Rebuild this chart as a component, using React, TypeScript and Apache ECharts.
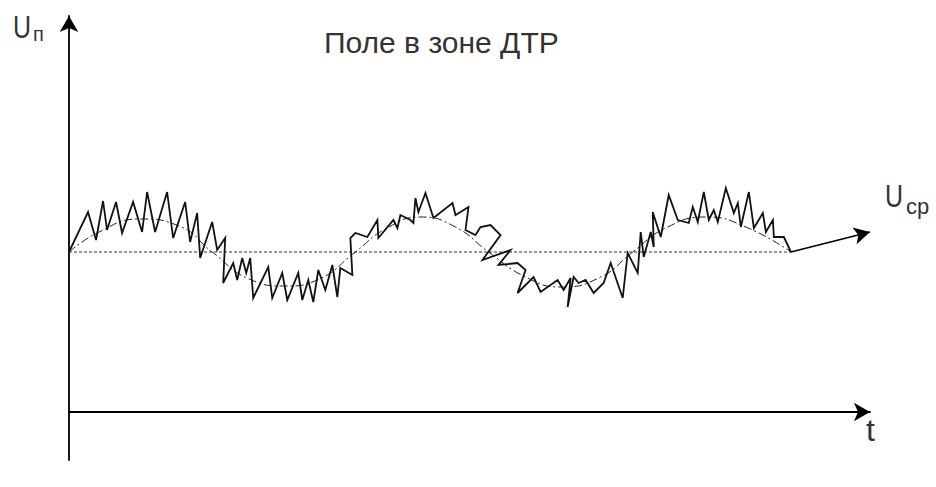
import React, { useEffect, useRef } from "react";
import * as echarts from "echarts";

// Time axis and field axis ranges (arbitrary units)
const T_MAX = 80;
const U_MIN = -4.8;
const U_MAX = 39.6;
const U_MEAN = 16;

// Noisy field signal in the DTR zone
const noisyT = [
  0, 1.9, 2.7, 3.4, 3.8, 4.7, 5.3, 6.4, 7.3, 7.8, 8.6, 9.8, 10.4, 11.6, 12.1, 12.8, 13.1, 14.3, 14.8, 15.6,
  15.4, 16.4, 16.8, 17.3, 17.7, 18.1, 18.4, 19.9, 20.3, 21.3, 21.8, 22.9, 23.3, 23.9, 24.4, 24.9, 25.6, 26.3,
  26.8, 27.1, 28.3, 28.1, 28.6, 29.8, 30.8, 30.9, 32.4, 32.8, 33.1, 34.1, 34.4, 34.6, 34.9, 35.6, 36.4, 38.3,
  38.6, 39.1, 39.9, 39.6, 40.6, 41.1, 42.1, 43.1, 41.3, 44.1, 42.9, 44.8, 45.6, 44.8, 46.4, 47.1, 48.8, 49.4,
  50.1, 49.8, 50.4, 50.9, 51.6, 52.4, 53.4, 54.1, 55.3, 55.8, 56.8, 57.1, 57.4, 58.1, 58.4, 58.3, 59.1, 59.9,
  60.8, 61.9, 62.3, 62.8, 63.4, 63.9, 64.4, 64.8, 65.6, 66.4, 66.8, 67.1, 67.9, 68.4, 69.3, 69.6, 70.3, 70.4,
  71.4, 72.1,
];
const noisyU = [
  16, 20.0, 17.2, 21.1, 18.2, 21.0, 17.9, 21.0, 18.0, 22.0, 18.0, 22.0, 17.4, 21.0, 17.0, 19.9, 15.4, 19.0, 16.2, 17.4,
  12.9, 14.9, 13.2, 15.4, 13.9, 15.4, 11.4, 14.5, 11.4, 13.9, 11.2, 13.9, 11.2, 13.2, 11.0, 14.2, 12.2, 14.7,
  11.5, 14.4, 13.7, 17.4, 17.9, 17.5, 19.2, 17.4, 19.2, 18.4, 19.7, 19.2, 18.9, 21.4, 20.0, 21.9, 19.4, 20.9,
  19.7, 20.0, 20.5, 18.2, 17.7, 18.5, 18.7, 17.7, 15.2, 16.2, 14.7, 14.9, 14.2, 11.9, 13.5, 12.0, 13.2, 12.2,
  13.4, 10.5, 13.5, 12.9, 13.2, 11.9, 12.9, 14.9, 11.4, 15.9, 13.9, 18.0, 15.5, 18.0, 16.5, 20.0, 17.5, 21.7,
  19.2, 18.9, 20.5, 19.0, 22.0, 19.2, 20.2, 19.0, 22.4, 19.9, 20.9, 18.5, 22.0, 18.4, 19.9, 18.0, 19.2, 17.5,
  17.5, 16,
];

// Smoothed (averaged) field, dash-dot curve
const smoothT = [0, 3, 7, 11, 14.3, 18, 21.6, 25, 28.6, 31.6, 35.1, 38.6, 41.9, 45.6, 49.1, 53.1, 56.3, 59.6, 63.6, 67.6, 72.1];
const smoothU = [16, 18, 19.3, 18.6, 16, 13.3, 12.6, 13.3, 16, 18.3, 19.5, 18.5, 16, 13.5, 12.5, 13.5, 16, 18.4, 19.5, 18.5, 16];

// Mean-level line and the U_cp arrow
const baselineT = [0, 72.1];
const ucpArrowT = [72.1, 80];
const ucpArrowU = [16, 18];

const TITLE = "Поле в зоне ДТР";
const Y_LABEL = "U";
const Y_LABEL_SUB = "п";
const X_LABEL = "t";
const UCP_LABEL = "U";
const UCP_LABEL_SUB = "cp";

const FONT = '"Liberation Sans", Arial, Helvetica, sans-serif';

export default function App() {
  const ref = useRef<HTMLDivElement>(null);
  useEffect(() => {
    if (!ref.current) return;
    const chart = echarts.init(ref.current, undefined, { renderer: "svg" });
    const noisy = noisyT.map((t, i) => [t, noisyU[i]]);
    const smooth = smoothT.map((t, i) => [t, smoothU[i]]);
    const base = baselineT.map((t) => [t, U_MEAN]);
    chart.setOption({
      animation: false,
      backgroundColor: "#ffffff",
      grid: { left: 69, right: 66, top: 16, bottom: 27, containLabel: false },
      xAxis: {
        type: "value",
        min: 0,
        max: T_MAX,
        axisLine: {
          show: true,
          onZero: true,
          symbol: ["none", "arrow"],
          symbolSize: [14, 16],
          lineStyle: { color: "#000", width: 1.8 },
        },
        axisTick: { show: false },
        axisLabel: { show: false },
        splitLine: { show: false },
      },
      yAxis: {
        type: "value",
        min: U_MIN,
        max: U_MAX,
        axisLine: {
          show: true,
          onZero: false,
          symbol: ["none", "arrow"],
          symbolSize: [14, 16],
          lineStyle: { color: "#000", width: 1.8 },
        },
        axisTick: { show: false },
        axisLabel: { show: false },
        splitLine: { show: false },
      },
      series: [
        {
          type: "line",
          data: base,
          symbol: "none",
          lineStyle: { color: "#333", width: 1, type: [3, 2] },
          z: 1,
        },
        {
          type: "line",
          data: smooth,
          smooth: 0.5,
          symbol: "none",
          lineStyle: { color: "#222", width: 1, type: [8, 3, 2, 3] },
          z: 2,
        },
        {
          type: "line",
          data: noisy,
          symbol: "none",
          lineStyle: { color: "#111", width: 1.8, join: "miter" },
          z: 3,
          markLine: {
            silent: true,
            symbol: ["none", "arrow"],
            symbolSize: [13, 16],
            label: { show: false },
            lineStyle: { color: "#000", width: 1.8, type: "solid" },
            data: [
              [
                { coord: [ucpArrowT[0], ucpArrowU[0]] },
                { coord: [ucpArrowT[1], ucpArrowU[1]] },
              ],
            ],
          },
        },
      ],
      graphic: [
        {
          type: "text",
          x: 324,
          y: 27,
          style: { text: TITLE, font: `30px ${FONT}`, fill: "#333" },
        },
        {
          type: "text",
          x: 13,
          y: 11,
          scaleX: 0.78,
          style: { text: Y_LABEL, font: `32px ${FONT}`, fill: "#333" },
        },
        {
          type: "text",
          x: 33,
          y: 24,
          style: { text: Y_LABEL_SUB, font: `20px ${FONT}`, fill: "#333" },
        },
        {
          type: "text",
          x: 885,
          y: 180,
          scaleX: 0.78,
          style: { text: UCP_LABEL, font: `32px ${FONT}`, fill: "#333" },
        },
        {
          type: "text",
          x: 906,
          y: 195,
          style: { text: UCP_LABEL_SUB, font: `22px ${FONT}`, fill: "#333" },
        },
        {
          type: "text",
          x: 866,
          y: 414,
          style: { text: X_LABEL, font: `32px ${FONT}`, fill: "#333" },
        },
      ],
    });
    return () => chart.dispose();
  }, []);
  return (
    <div
      ref={ref}
      style={{ position: "fixed", left: 0, top: 0, width: 936, height: 487 }}
    />
  );
}
